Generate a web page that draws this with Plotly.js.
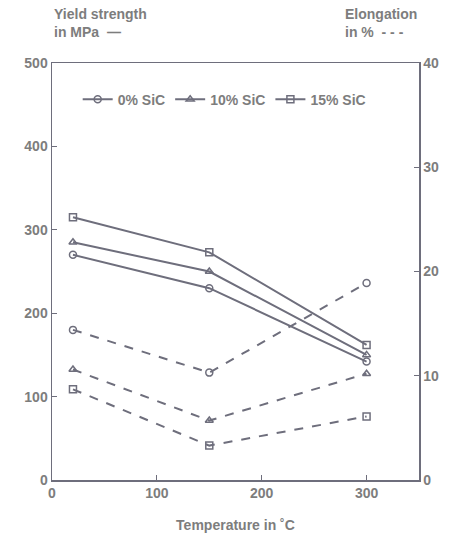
<!DOCTYPE html>
<html><head><meta charset="utf-8">
<script src="https://cdn.plot.ly/plotly-3.0.1.min.js"></script>
<style>body{margin:0;background:#fff}#plot{width:451px;height:541px}</style>
</head><body><div id="plot"></div>
<script>
const temps = [20, 150, 300];
const seriesNames = ["0% SiC", "10% SiC", "15% SiC"];
const yield0 = [270, 230, 142];
const yield10 = [285, 250, 150];
const yield15 = [315, 273, 162];
const elong0 = [14.4, 10.3, 18.9];
const elong10 = [10.6, 5.7, 10.2];
const elong15 = [8.7, 3.3, 6.1];
const xTicks = [0, 100, 200, 300];
const yTicks = [0, 100, 200, 300, 400, 500];
const y2Ticks = [0, 10, 20, 30, 40];

const col = "#6e6e7c";
const txt = "#7d7d7d";
const symbols = ["circle-open", "triangle-up-open", "square-open"];
const yields = [yield0, yield10, yield15];
const elongs = [elong0, elong10, elong15];

const traces = [];
for (let i = 0; i < 3; i++) {
  traces.push({x: temps, y: yields[i], name: seriesNames[i], type: "scatter", mode: "lines+markers",
    line: {color: col, width: 2}, marker: {symbol: symbols[i], size: 7, color: col, line: {width: 1.5, color: col}},
    showlegend: true});
}
for (let i = 0; i < 3; i++) {
  traces.push({x: temps, y: elongs[i], name: seriesNames[i], type: "scatter", mode: "lines+markers", yaxis: "y2",
    line: {color: col, width: 2, dash: "dash"}, marker: {symbol: symbols[i], size: 7, color: col, line: {width: 1.5, color: col}},
    showlegend: false});
}

const font = {family: "Liberation Sans, Arial, sans-serif", size: 14, color: txt};
const bf = {family: font.family, size: 14, color: txt, weight: "bold"};
const layout = {
  width: 451, height: 541,
  margin: {l: 52, r: 32, t: 63, b: 61},
  paper_bgcolor: "#fff", plot_bgcolor: "#fff",
  font: font,
  showlegend: true,
  legend: {orientation: "h", x: 0.07, y: 0.912, xanchor: "left", yanchor: "middle",
    bgcolor: "rgba(0,0,0,0)", font: bf, itemwidth: 30, tracegroupgap: 0},
  xaxis: {range: [0, 350], tickvals: xTicks, ticks: "inside", ticklen: 5, tickcolor: col,
    showline: true, linecolor: col, linewidth: 1.5, mirror: true, showgrid: false, zeroline: false,
    tickfont: bf, title: {text: "Temperature in ˚C", font: bf, standoff: 20}},
  yaxis: {range: [0, 500], tickvals: yTicks, ticks: "inside", ticklen: 5, tickcolor: col,
    showline: true, linecolor: col, linewidth: 1.5, showgrid: false, zeroline: false, tickfont: bf},
  yaxis2: {range: [0, 40], tickvals: y2Ticks, overlaying: "y", side: "right", ticks: "inside", ticklen: 5, tickcolor: col,
    showline: true, linecolor: col, linewidth: 1.5, showgrid: false, zeroline: false, tickfont: bf},
  annotations: [
    {text: "Yield strength<br>in MPa  —", xref: "paper", yref: "paper", x: 0, y: 1.095, xanchor: "left", yanchor: "middle",
      align: "left", showarrow: false, font: bf},
    {text: "Elongation<br>in %  - - -", xref: "paper", yref: "paper", x: 1.0, y: 1.095, xanchor: "right", yanchor: "middle",
      align: "left", showarrow: false, font: bf}
  ]
};
Plotly.newPlot("plot", traces, layout, {displayModeBar: false, staticPlot: true});
</script></body></html>
